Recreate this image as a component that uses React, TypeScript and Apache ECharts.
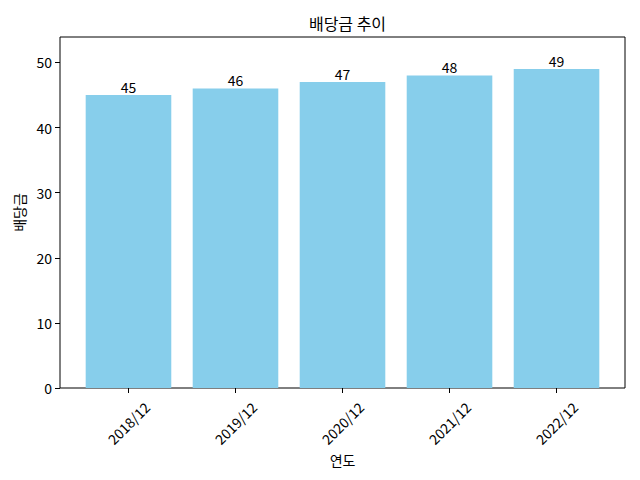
import React, { useEffect, useRef } from "react";
import * as echarts from "echarts";

const categories = ["2018/12", "2019/12", "2020/12", "2021/12", "2022/12"];
const dividends = [45, 46, 47, 48, 49];
const yTicks = [0, 10, 20, 30, 40, 50];
const titleText = "배당금 추이";
const xName = "연도";
const yName = "배당금";

const FONT = "'Noto Sans CJK KR', 'Noto Sans', sans-serif";

export default function App() {
  const ref = useRef<HTMLDivElement>(null);
  useEffect(() => {
    if (!ref.current) return;
    const chart = echarts.init(ref.current, undefined, { renderer: "svg" });
    const yMax = Math.max(...dividends) * 1.1;
    chart.setOption({
      animation: false,
      textStyle: { fontFamily: FONT, color: "#000" },
      title: {
        text: titleText,
        left: 342.5,
        textAlign: "center",
        top: 10,
        textStyle: { fontFamily: FONT, fontSize: 16, fontWeight: "normal", color: "#000" },
      },
      grid: {
        left: 60,
        right: 15,
        top: 37,
        bottom: 92,
        show: true,
        borderColor: "#000",
        borderWidth: 1,
        backgroundColor: "transparent",
      },
      xAxis: {
        type: "value",
        min: -0.64,
        max: categories.length - 1 + 0.64,
        splitLine: { show: false },
        axisLine: { show: false, onZero: false },
        axisTick: {
          show: true,
          customValues: categories.map((_, i) => i),
          length: 5,
          lineStyle: { color: "#000" },
        },
        axisLabel: {
          customValues: categories.map((_, i) => i),
          formatter: (v: number) => categories[Math.round(v)] ?? "",
          rotate: 45,
          align: "center",
          verticalAlign: "middle",
          margin: 35,
          fontSize: 14,
          color: "#000",
          fontFamily: FONT,
        },
        name: xName,
        nameLocation: "middle",
        nameGap: 59,
        nameTextStyle: { fontSize: 14, color: "#000", fontFamily: FONT },
      },
      yAxis: {
        type: "value",
        min: 0,
        max: yMax,
        interval: 10,
        splitLine: { show: false },
        axisLine: { show: false, onZero: false },
        axisTick: { show: true, length: 5, lineStyle: { color: "#000" }, customValues: yTicks },
        axisLabel: {
          customValues: yTicks,
          fontSize: 14,
          color: "#000",
          margin: 8,
          fontFamily: FONT,
        },
        name: yName,
        nameLocation: "middle",
        nameGap: 34,
        nameTextStyle: { fontSize: 14, color: "#000", fontFamily: FONT },
      },
      series: [
        {
          type: "bar",
          data: dividends.map((v, i) => [i, v]),
          barWidth: 85.6,
          itemStyle: { color: "#87CEEB" },
          label: {
            show: true,
            position: "top",
            distance: 1,
            fontSize: 14,
            color: "#000",
            fontFamily: FONT,
            formatter: (p: any) => String(p.value[1]),
          },
        },
      ],
    });
    return () => chart.dispose();
  }, []);
  return (
    <div
      ref={ref}
      style={{ position: "fixed", left: 0, top: 0, width: 640, height: 480, background: "#fff" }}
    />
  );
}
